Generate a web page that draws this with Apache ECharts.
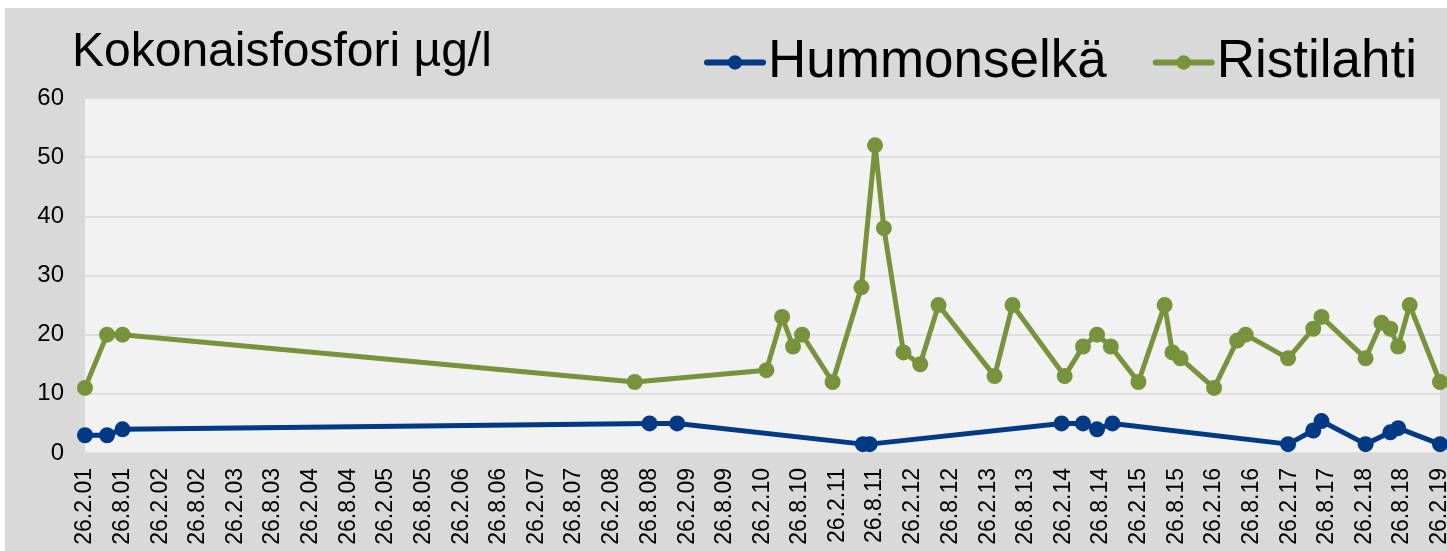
<!DOCTYPE html>
<html>
<head>
<meta charset="utf-8">
<script src="https://cdn.jsdelivr.net/npm/echarts@6/dist/echarts.min.js"></script>
<style>
    html, body { margin: 0; padding: 0; background: #fff; }
    #chart { position: absolute; left: 5px; top: 8px; width: 1442px; height: 543px; }
</style>
</head>
<body>
<div id="chart"></div>
<script>
// sampling dates and values
var hummonDates  = ['2001-02-26', '2001-06-13', '2001-08-27', '2008-08-27', '2009-01-08', '2011-06-28',
                    '2011-07-31', '2014-02-16', '2014-05-31', '2014-08-07', '2014-10-21', '2017-02-19',
                    '2017-06-21', '2017-07-31', '2018-03-02', '2018-06-30', '2018-08-07', '2019-02-26'];
var hummonValues = [3, 3, 4, 5, 5, 1.5, 1.5, 5, 5, 4, 5, 1.5, 3.8, 5.4, 1.5, 3.5, 4.2, 1.5];

var ristiDates  = ['2001-02-26', '2001-06-13', '2001-08-27', '2008-06-16', '2010-03-17', '2010-06-01',
                   '2010-07-24', '2010-09-06', '2011-02-01', '2011-06-21', '2011-08-26', '2011-10-08',
                   '2012-01-11', '2012-04-01', '2012-06-29', '2013-03-28', '2013-06-23', '2014-03-03',
                   '2014-05-31', '2014-08-07', '2014-10-13', '2015-02-24', '2015-07-01', '2015-08-08',
                   '2015-09-16', '2016-02-26', '2016-06-17', '2016-07-28', '2017-02-19', '2017-06-21',
                   '2017-07-31', '2018-03-02', '2018-05-18', '2018-06-30', '2018-08-07', '2018-10-02',
                   '2019-02-26'];
var ristiValues = [11, 20, 20, 12, 14, 23, 18, 20, 12, 28, 52, 38, 17, 15, 25, 13, 25, 13, 18, 20, 18,
                   12, 25, 17, 16, 11, 19, 20, 16, 21, 23, 16, 22, 21, 18, 25, 12];

var tickLabels = ['26.2.01', '26.8.01', '26.2.02', '26.8.02', '26.2.03', '26.8.03', '26.2.04', '26.8.04',
                  '26.2.05', '26.8.05', '26.2.06', '26.8.06', '26.2.07', '26.8.07', '26.2.08', '26.8.08',
                  '26.2.09', '26.8.09', '26.2.10', '26.8.10', '26.2.11', '26.8.11', '26.2.12', '26.8.12',
                  '26.2.13', '26.8.13', '26.2.14', '26.8.14', '26.2.15', '26.8.15', '26.2.16', '26.8.16',
                  '26.2.17', '26.8.17', '26.2.18', '26.8.18', '26.2.19'];

var FONT = "'Liberation Sans', Arial, sans-serif";

// dates go on a plain value axis as day numbers (UTC, so no DST wobble)
function isoDay(s) {
    var p = s.split('-');
    return Date.UTC(+p[0], +p[1] - 1, +p[2]) / 86400000;
}
function labelDay(s) {
    var p = s.split('.');
    return Date.UTC(2000 + (+p[2]), +p[1] - 1, +p[0]) / 86400000;
}

var tickValues = [];
var labelByDay = {};
tickLabels.forEach(function (s) {
    var d = labelDay(s);
    tickValues.push(d);
    labelByDay[d] = s;
});

function pairs(dates, values) {
    return dates.map(function (d, i) { return [isoDay(d), values[i]]; });
}

var chart = echarts.init(document.getElementById('chart'));

chart.setOption({
    backgroundColor: '#d9d9d9',
    animation: false,
    textStyle: { fontFamily: FONT },
    title: {
        text: 'Kokonaisfosfori µg/l',
        left: 67,
        top: 21,
        padding: 0,
        textStyle: { fontFamily: FONT, fontSize: 48, fontWeight: 'normal', color: '#000' }
    },
    legend: {
        left: 699,
        top: 28,
        padding: 0,
        itemGap: 46,
        itemWidth: 56,
        itemHeight: 18,
        lineStyle: { width: 6, cap: 'round' },
        textStyle: { fontFamily: FONT, fontSize: 53, color: '#000' },
        data: ['Hummonselkä', 'Ristilahti']
    },
    grid: {
        left: 80,
        right: 7,
        top: 90,
        bottom: 98,
        outerBoundsMode: 'none',
        show: true,
        borderWidth: 0,
        backgroundColor: '#f2f2f2'
    },
    xAxis: {
        type: 'value',
        min: tickValues[0],
        max: tickValues[tickValues.length - 1],
        axisLine: { show: false },
        axisTick: { show: false },
        splitLine: { show: false },
        axisLabel: {
            customValues: tickValues,
            rotate: 90,
            margin: 15,
            fontSize: 23,
            color: '#000',
            fontFamily: FONT,
            formatter: function (v) { return labelByDay[v] || ''; }
        }
    },
    yAxis: {
        type: 'value',
        min: 0,
        max: 60,
        interval: 10,
        axisLine: { show: false },
        axisTick: { show: false },
        splitLine: { lineStyle: { color: '#d9d9d9', width: 1.5 } },
        axisLabel: { margin: 21, fontSize: 24, color: '#000', fontFamily: FONT }
    },
    series: [
        {
            name: 'Hummonselkä',
            type: 'line',
            data: pairs(hummonDates, hummonValues),
            symbol: 'circle',
            symbolSize: 16,
            showAllSymbol: true,
            itemStyle: { color: '#003a84' },
            lineStyle: { color: '#003a84', width: 5 }
        },
        {
            name: 'Ristilahti',
            type: 'line',
            data: pairs(ristiDates, ristiValues),
            symbol: 'circle',
            symbolSize: 16,
            showAllSymbol: true,
            itemStyle: { color: '#77933c' },
            lineStyle: { color: '#77933c', width: 5 }
        }
    ]
});
</script>
</body>
</html>
